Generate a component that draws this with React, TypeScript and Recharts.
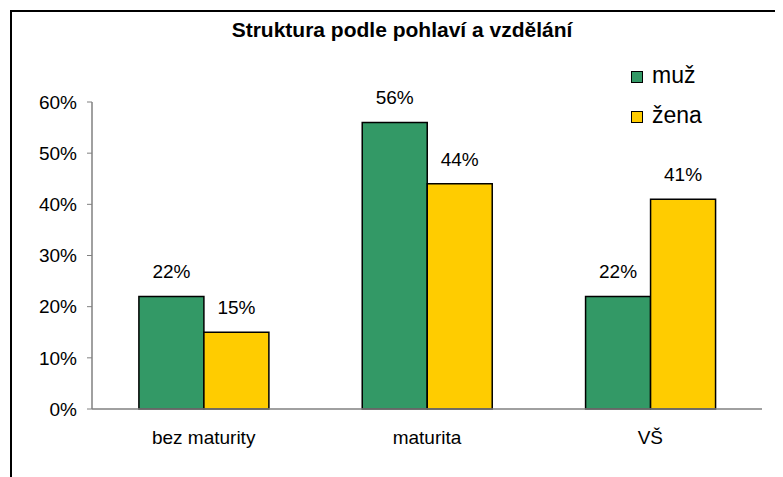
import React from 'react';
import { BarChart, Bar, XAxis, YAxis, LabelList } from 'recharts';

const categories = ['bez maturity', 'maturita', 'VŠ'];
const muz = [22, 56, 22];
const zena = [15, 44, 41];
const seriesNames = ['muž', 'žena'];
const seriesColors = ['#339966', '#FFCC00'];
const yTicks = [0, 10, 20, 30, 40, 50, 60];
const boundaryTicks = [0, 1, 2, 3];

const FONT = '"Liberation Sans", Arial, sans-serif';
const AXIS = '#808080';

const data = categories.map((name, i) => ({
  name,
  idx: i + 0.5,
  muz: muz[i],
  zena: zena[i],
}));

const pct = (v: number) => `${v}%`;

export default function App() {
  return (
    <div
      style={{
        position: 'relative',
        width: 775,
        height: 469,
        overflow: 'hidden',
        fontFamily: FONT,
        background: '#fff',
      }}
    >
      {/* cropped chart frame */}
      <div
        style={{
          position: 'absolute',
          left: 2,
          top: 2,
          width: 900,
          height: 600,
          borderLeft: '2px solid #000',
          borderTop: '2px solid #000',
        }}
      />

      <div
        style={{
          position: 'absolute',
          left: 0,
          width: 788,
          top: 11,
          textAlign: 'center',
          fontWeight: 'bold',
          fontSize: 21,
          lineHeight: '21px',
          color: '#000',
        }}
      >
        Struktura podle pohlaví a vzdělání
      </div>

      {/* legend */}
      {seriesNames.map((s, i) => (
        <React.Fragment key={s}>
          <div
            style={{
              position: 'absolute',
              left: 623,
              top: 63 + i * 40,
              width: 10,
              height: 10,
              background: seriesColors[i],
              border: '1.5px solid #000',
            }}
          />
          <div
            style={{
              position: 'absolute',
              left: 644,
              top: 56 + i * 40,
              fontSize: 23,
              lineHeight: '23px',
              color: '#000',
            }}
          >
            {s}
          </div>
        </React.Fragment>
      ))}

      <div style={{ position: 'absolute', left: 0, top: 0 }}>
        <BarChart
          width={775}
          height={469}
          data={data}
          margin={{ top: 94, right: 21, bottom: 38, left: 0 }}
          barCategoryGap="21%"
          barGap={0}
        >
          <XAxis
            xAxisId="grid"
            type="number"
            dataKey="idx"
            domain={[0, 3]}
            ticks={boundaryTicks}
            height={0}
            tick={false}
            axisLine={false}
            tickLine={{ stroke: AXIS }}
            tickSize={5}
          />
          <XAxis
            xAxisId="cat"
            dataKey="name"
            height={30}
            axisLine={{ stroke: AXIS, strokeWidth: 1.5 }}
            tickLine={false}
            tickSize={0}
            tickMargin={22}
            tick={{ fill: '#000', fontSize: 19, fontFamily: FONT }}
          />
          <YAxis
            width={84}
            domain={[0, 60]}
            ticks={yTicks}
            tickFormatter={pct}
            axisLine={{ stroke: AXIS, strokeWidth: 1.5 }}
            tickLine={{ stroke: AXIS }}
            tickSize={5}
            tickMargin={10}
            tick={{ fill: '#000', fontSize: 19, fontFamily: FONT }}
          />
          <Bar
            xAxisId="cat"
            dataKey="muz"
            name={seriesNames[0]}
            fill={seriesColors[0]}
            stroke="#000"
            strokeWidth={1.5}
            isAnimationActive={false}
          >
            <LabelList
              dataKey="muz"
              position="top"
              offset={18}
              formatter={pct}
              style={{ fill: '#000', fontSize: 19, fontFamily: FONT }}
            />
          </Bar>
          <Bar
            xAxisId="cat"
            dataKey="zena"
            name={seriesNames[1]}
            fill={seriesColors[1]}
            stroke="#000"
            strokeWidth={1.5}
            isAnimationActive={false}
          >
            <LabelList
              dataKey="zena"
              position="top"
              offset={18}
              formatter={pct}
              style={{ fill: '#000', fontSize: 19, fontFamily: FONT }}
            />
          </Bar>
        </BarChart>
      </div>
    </div>
  );
}
